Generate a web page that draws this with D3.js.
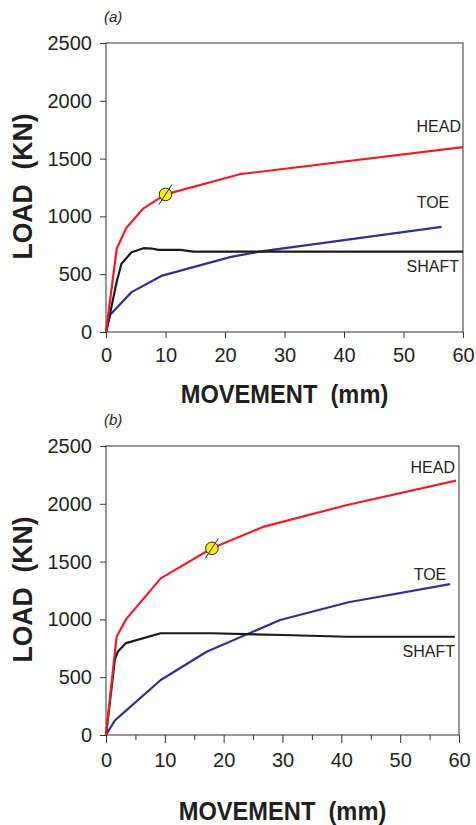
<!DOCTYPE html>
<html>
<head>
<meta charset="utf-8">
<script src="https://cdn.jsdelivr.net/npm/d3@7"></script>
<style>
  html, body { margin: 0; padding: 0; background: #fff; }
  svg { display: block; }
  text { font-family: "Liberation Sans", Arial, Helvetica, sans-serif; fill: #231f20; }
</style>
</head>
<body>
<svg id="chart" width="476" height="825"></svg>
<script>
// Load–movement curves (movement in mm, load in kN)
const xTicks = [0, 10, 20, 30, 40, 50, 60];
const yTicks = [0, 500, 1000, 1500, 2000, 2500];

// Panel (a)
const headA  = [[0,0],[1.8,720],[3.4,900],[6.3,1070],[10,1190],[22.5,1365],[60,1600]];
const shaftA = [[0,0],[0.8,190],[1.8,435],[2.6,590],[4.3,690],[6.3,725],[7.7,722],[8.8,710],[12.5,710],[14.7,695],[60,695]];
const toeA   = [[0,0],[0.7,150],[4.3,345],[9.3,485],[21,650],[26.4,700],[56.4,910]];
const markerA = [10, 1190];

// Panel (b)
const headB  = [[0,0],[1.8,850],[3.4,1000],[9.3,1355],[18,1615],[26.7,1800],[41,1990],[59.5,2200]];
const shaftB = [[0,0],[1.5,650],[2,720],[3.4,795],[9.3,880],[18,880],[30,865],[41,850],[59.3,850]];
const toeB   = [[0,0],[1.5,125],[3.5,215],[9.3,476],[17.1,720],[29.6,995],[41.2,1148],[58.5,1305]];
const markerB = [18, 1615];

const svg = d3.select("#chart");

const colors = { head: "#ed1c24", shaft: "#1a1a1a", toe: "#2e3192" };

function drawPanel(p) {
  const x = d3.scaleLinear().domain([0, 60]).range([p.left, p.right]);
  const y = d3.scaleLinear().domain([0, 2500]).range([p.bottom, p.top]);
  const g = svg.append("g");

  // frame
  g.append("rect")
    .attr("x", p.left).attr("y", p.top)
    .attr("width", p.right - p.left).attr("height", p.bottom - p.top)
    .attr("fill", "none").attr("stroke", "#333").attr("stroke-width", 1);

  // x axis
  const xa = g.append("g").attr("transform", `translate(0,${p.bottom})`)
    .call(d3.axisBottom(x).tickValues(xTicks).tickSize(p.xTickSize).tickPadding(5).tickFormat(d3.format("d")));
  xa.select(".domain").remove();
  xa.selectAll("line").attr("stroke", "#333");
  xa.selectAll("text").attr("font-size", 20).attr("dy", "0.95em").style("fill", "#231f20");

  if (p.minor) {
    const minor = d3.range(5, 60, 10);
    g.append("g").attr("transform", `translate(0,${p.bottom})`)
      .call(d3.axisBottom(x).tickValues(minor).tickSize(5).tickFormat(""))
      .call(s => s.select(".domain").remove())
      .selectAll("line").attr("stroke", "#333");
  }

  // y axis
  const ya = g.append("g").attr("transform", `translate(${p.left},0)`)
    .call(d3.axisLeft(y).tickValues(yTicks).tickSize(6).tickPadding(8).tickFormat(d3.format("d")));
  ya.select(".domain").remove();
  ya.selectAll("line").attr("stroke", "#333");
  ya.selectAll("text").attr("font-size", 20).style("fill", "#231f20");

  // curves
  const line = d3.line().x(d => x(d[0])).y(d => y(d[1]));
  [[p.toe, colors.toe], [p.shaft, colors.shaft], [p.head, colors.head]].forEach(([data, c]) => {
    g.append("path").datum(data)
      .attr("d", line).attr("fill", "none")
      .attr("stroke", c).attr("stroke-width", 2.2)
      .attr("stroke-linejoin", "round");
  });

  // marker with slash
  const mx = x(p.marker[0]), my = y(p.marker[1]);
  g.append("circle").attr("cx", mx).attr("cy", my).attr("r", 6.3)
    .attr("fill", "#ffef00").attr("stroke", "#231f20").attr("stroke-width", 1);
  g.append("line")
    .attr("x1", mx - 6.5).attr("y1", my + 10)
    .attr("x2", mx + 6.5).attr("y2", my - 10)
    .attr("stroke", "#231f20").attr("stroke-width", 1);

  // curve labels
  p.labels.forEach(l => {
    g.append("text").attr("x", l.x).attr("y", l.y)
      .attr("text-anchor", l.anchor).attr("font-size", 16)
      .text(l.text);
  });

  // panel tag
  g.append("text").attr("x", p.left - 2).attr("y", p.top - 21)
    .attr("font-size", 15).attr("font-style", "italic").text(p.tag);

  // axis titles (slightly condensed bold)
  g.append("text")
    .attr("transform", `translate(${(p.left + p.right) / 2},${p.xTitleY}) scale(0.91,1)`)
    .attr("text-anchor", "middle").attr("font-size", 26).attr("font-weight", "bold")
    .style("white-space", "pre").text("MOVEMENT  (mm)");

  g.append("text")
    .attr("transform", `translate(32,${(p.top + p.bottom) / 2 - 1}) rotate(-90) scale(0.95,1)`)
    .attr("text-anchor", "middle").attr("font-size", 28).attr("font-weight", "bold")
    .style("white-space", "pre").text("LOAD  (KN)");
}

drawPanel({
  left: 106, right: 463, top: 43, bottom: 332,
  head: headA, shaft: shaftA, toe: toeA, marker: markerA,
  tag: "(a)", xTitleY: 403, xTickSize: 6, minor: false,
  labels: [
    { text: "HEAD", x: 461, y: 132, anchor: "end" },
    { text: "TOE", x: 433, y: 208, anchor: "middle" },
    { text: "SHAFT", x: 459, y: 272, anchor: "end" }
  ]
});

drawPanel({
  left: 106, right: 459, top: 446, bottom: 735,
  head: headB, shaft: shaftB, toe: toeB, marker: markerB,
  tag: "(b)", xTitleY: 820, xTickSize: 8, minor: true,
  labels: [
    { text: "HEAD", x: 455, y: 473, anchor: "end" },
    { text: "TOE", x: 430, y: 580, anchor: "middle" },
    { text: "SHAFT", x: 455, y: 657, anchor: "end" }
  ]
});
</script>
</body>
</html>
